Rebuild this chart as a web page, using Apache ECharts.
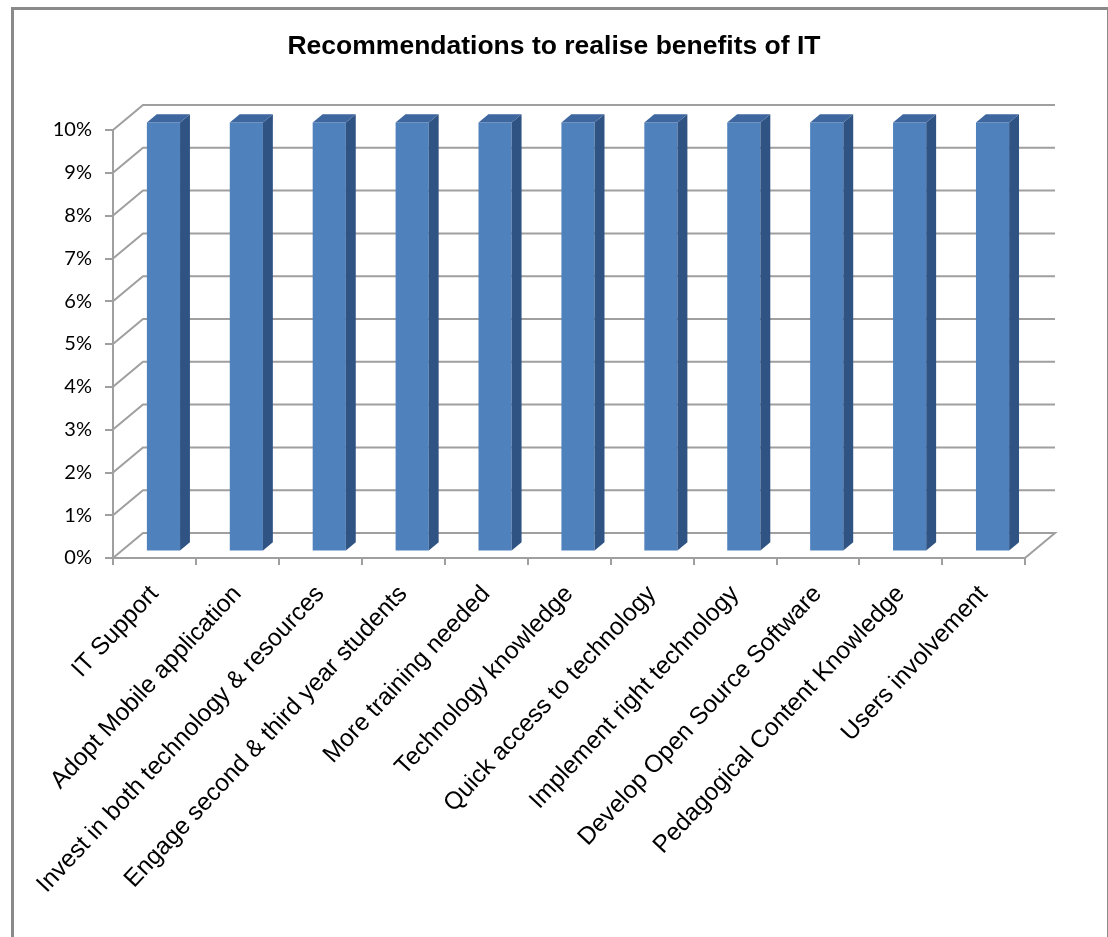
<!DOCTYPE html>
<html>
<head>
<meta charset="utf-8">
<script src="https://cdn.jsdelivr.net/npm/echarts@6/dist/echarts.min.js"></script>
<style>
  html, body { margin: 0; padding: 0; background: #ffffff; }
  #chart { width: 1108px; height: 937px; }
</style>
</head>
<body>
<div id="chart"></div>
<script>
// Recommendations and the share of respondents (%) for each
const categories = [
  'IT Support',
  'Adopt Mobile application',
  'Invest in both technology & resources',
  'Engage second & third year students',
  'More training needed',
  'Technology knowledge',
  'Quick access to technology',
  'Implement right technology',
  'Develop Open Source Software',
  'Pedagogical Content Knowledge',
  'Users involvement'
];
const shares = [10, 10, 10, 10, 10, 10, 10, 10, 10, 10, 10];
const yTicks = [0, 1, 2, 3, 4, 5, 6, 7, 8, 9, 10];

// Pseudo-3D layout: offset of the back wall, and where each column sits in depth
const DEPTH_X = 30;
const DEPTH_Y = 25;
const BAR_FRONT = 0.3;
const BAR_BACK = 0.63;
const BAR_WIDTH = 0.4;

const GRID_COLOR = '#9f9f9f';

// Back wall gridline with its diagonal link to the front value axis; the floor also closes on the right
function renderWall(params, api) {
  const cs = params.coordSys;
  const v = api.value(1);
  const y = api.coord([0, v])[1];
  const x0 = cs.x;
  const x1 = cs.x + cs.width;
  const pts = [[x0, y], [x0 + DEPTH_X, y - DEPTH_Y], [x1 + DEPTH_X, y - DEPTH_Y]];
  if (v === 0) pts.push([x1, y]);
  return {
    type: 'polyline',
    shape: { points: pts },
    style: { stroke: GRID_COLOR, lineWidth: 2, fill: null }
  };
}

// Column drawn as a box: front face, right side and top
function renderBar(params, api) {
  const i = api.value(0);
  const v = api.value(1);
  const top = api.coord([i, v]);
  const base = api.coord([i, 0]);
  const band = api.size([1, 0])[0];
  const w = band * BAR_WIDTH;
  const fx = DEPTH_X * BAR_FRONT;
  const fy = DEPTH_Y * BAR_FRONT;
  const d = BAR_BACK - BAR_FRONT;
  const bx = DEPTH_X * d;
  const by = DEPTH_Y * d;
  const l = top[0] - w / 2 + fx;
  const r = l + w;
  const t = top[1] - fy;
  const b = base[1] - fy;
  return {
    type: 'group',
    children: [
      { type: 'rect', shape: { x: l, y: t, width: w, height: b - t }, style: { fill: '#4F81BD' } },
      { type: 'polygon', shape: { points: [[r, t], [r + bx, t - by], [r + bx, b - by], [r, b]] }, style: { fill: '#2F5383' } },
      { type: 'polygon', shape: { points: [[l, t], [l + bx, t - by], [r + bx, t - by], [r, t]] }, style: { fill: '#3E669F' } }
    ]
  };
}

const chart = echarts.init(document.getElementById('chart'), null, { renderer: 'canvas' });

chart.setOption({
  animation: false,
  backgroundColor: '#ffffff',
  title: {
    text: 'Recommendations to realise benefits of IT',
    left: 'center',
    top: 28,
    textStyle: { fontFamily: 'Liberation Sans', fontWeight: 'bold', fontSize: 26.5, color: '#000000' }
  },
  graphic: [{
    type: 'rect',
    left: 10,
    top: 6,
    shape: { width: 1096, height: 960 },
    style: { fill: null, stroke: '#8a8a8a', lineWidth: 3 },
    silent: true
  }],
  grid: { left: 113, right: 83, top: 130, bottom: 379, containLabel: false },
  xAxis: {
    type: 'category',
    data: categories,
    boundaryGap: true,
    axisLine: { show: true, lineStyle: { color: GRID_COLOR, width: 2 } },
    axisTick: { show: true, length: 7, lineStyle: { color: GRID_COLOR, width: 2 } },
    axisLabel: {
      rotate: 47,
      interval: 0,
      margin: 32,
      fontFamily: 'Liberation Sans',
      fontSize: 24.5,
      color: '#000000'
    },
    splitLine: { show: false }
  },
  yAxis: {
    type: 'value',
    min: 0,
    max: 10,
    interval: 1,
    axisLine: { show: true, lineStyle: { color: GRID_COLOR, width: 2 } },
    axisTick: { show: true, length: 8, lineStyle: { color: GRID_COLOR, width: 2 } },
    axisLabel: {
      formatter: '{value}%',
      margin: 21,
      fontFamily: 'Lato',
      fontSize: 20,
      color: '#000000'
    },
    splitLine: { show: false }
  },
  series: [
    {
      type: 'custom',
      name: 'wall',
      renderItem: renderWall,
      encode: { x: 0, y: 1 },
      data: yTicks.map(v => [0, v]),
      z: 1,
      silent: true
    },
    {
      type: 'custom',
      name: 'Share',
      renderItem: renderBar,
      encode: { x: 0, y: 1 },
      data: shares.map((v, i) => [i, v]),
      z: 3
    }
  ]
});
</script>
</body>
</html>
